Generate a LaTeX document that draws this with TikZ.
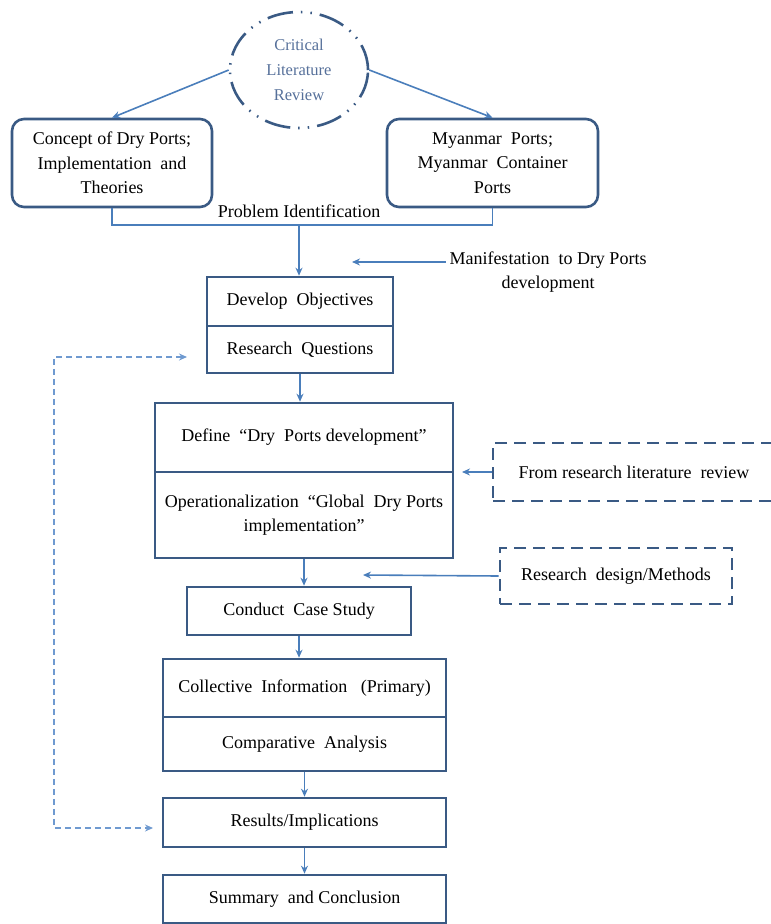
\documentclass[tikz,border=0pt]{standalone}
\usepackage{fontspec}
\setmainfont{Liberation Serif}
\usetikzlibrary{shapes.geometric, arrows, arrows.meta}
\definecolor{boxline}{HTML}{3A5A84}
\definecolor{flowline}{HTML}{4A7EBB}
\definecolor{loopline}{HTML}{6F9AD0}
\definecolor{reviewtext}{HTML}{56709A}

\begin{document}
\begin{tikzpicture}[
    x=1pt, y=-1pt,
    >={Stealth[length=8pt,width=7pt]},
    every node/.append style={font=\fontsize{18}{24.5}\selectfont},
    arrow/.style ={draw, flowline, line width=1.6pt, ->},
    feedback/.style ={draw, loopline, line width=1.2pt, dash pattern=on 6pt off 4pt, <->},
    review/.style = {ellipse, draw=boxline, line width=2.6pt, dash pattern=on 26pt off 8pt on 1.5pt off 8pt on 1.5pt off 8pt,
      minimum width=138pt, minimum height=116pt, inner sep=0pt, text=reviewtext, align=center, font=\fontsize{16.5}{25}\selectfont},
    topic/.style = {rectangle, rounded corners=12pt, draw=boxline, line width=2.6pt, minimum height=88pt, inner sep=0pt, align=center},
    stage/.style = {rectangle, draw=boxline, line width=2.6pt, inner sep=0pt, align=center},
    source/.style = {rectangle, draw=boxline, line width=2.8pt, dash pattern=on 12pt off 7pt, inner sep=0pt, align=center}
  ]
  \useasboundingbox (0,0) rectangle (771,924);

  \node (review) [review] at (299,70) {Critical\\Literature\\Review};
  \node (concept) [topic, minimum width=200pt] at (112,163) {Concept of Dry Ports;\\Implementation\ \ and\\Theories};
  \node (myanmar) [topic, minimum width=211pt] at (492.5,163) {Myanmar\ \ Ports;\\Myanmar\ \ Container\\Ports};
  \node (problem) at (299,211) {Problem Identification};
  \node (manif) [align=center] at (548,272) {Manifestation\ \ to Dry Ports\\development};

  \node (develop) [stage, minimum width=186pt, minimum height=49pt] at (300,301.5) {Develop\ \ Objectives};
  \node (questions) [stage, minimum width=186pt, minimum height=47pt] at (300,349.5) {Research\ \ Questions};
  \node (define) [stage, minimum width=298pt, minimum height=69pt] at (304,437.5) {Define\ \ “Dry\ \ Ports development”};
  \node (operational) [stage, minimum width=298pt, minimum height=86pt] at (304,515) {Operationalization\ \ “Global\ \ Dry Ports\\implementation”};
  \node (litsource) [source, minimum width=282pt, minimum height=58pt] at (634,472) {From research literature\ \ review};
  \node (design) [source, minimum width=232pt, minimum height=56pt] at (616,576) {Research\ \ design/Methods};
  \node (casestudy) [stage, minimum width=224pt, minimum height=48pt] at (299,611) {Conduct\ \ Case Study};
  \node (collect) [stage, minimum width=283pt, minimum height=58pt] at (304.5,688) {Collective\ \ Information\ \ \ (Primary)};
  \node (compare) [stage, minimum width=283pt, minimum height=54pt] at (304.5,744) {Comparative\ \ Analysis};
  \node (results) [stage, minimum width=283pt, minimum height=49pt] at (304.5,822.5) {Results/Implications};
  \node (summary) [stage, minimum width=283pt, minimum height=48pt] at (304.5,899) {Summary\ \ and Conclusion};

  \coordinate (probjoin) at (299,225);
  \coordinate (mantip) at (352,262);
  \coordinate (littip) at (462,472);
  \coordinate (designtip) at (363,575);
  \coordinate (looptop) at (187,357);
  \coordinate (loopbot) at (153,828);

  % problem identification bracket
  \draw[flowline, line width=1.6pt] (concept.south) -- (concept.south |- probjoin) -| (myanmar.south);

  \begin{scope}[every path/.style=arrow]
    \path (review.west) -- (concept.north);
    \path (review.east) -- (myanmar.north);
    \path (probjoin) -- (probjoin |- develop.north);
    \path ([yshift=10pt]manif.west) -- (mantip);
    \path (questions.south) -- (questions.south |- define.north);
    \path (litsource.west) -- (littip);
    \path (operational.south) -- (operational.south |- casestudy.north);
    \path (design.west) -- (designtip);
    \path (casestudy.south) -- (casestudy.south |- collect.north);
    \path (compare.south) -- (compare.south |- results.north);
    \path (results.south) -- (results.south |- summary.north);
  \end{scope}

  % feedback loop
  \path[feedback] (looptop) -- ++(-133,0) |- (loopbot);
\end{tikzpicture}
\end{document}
